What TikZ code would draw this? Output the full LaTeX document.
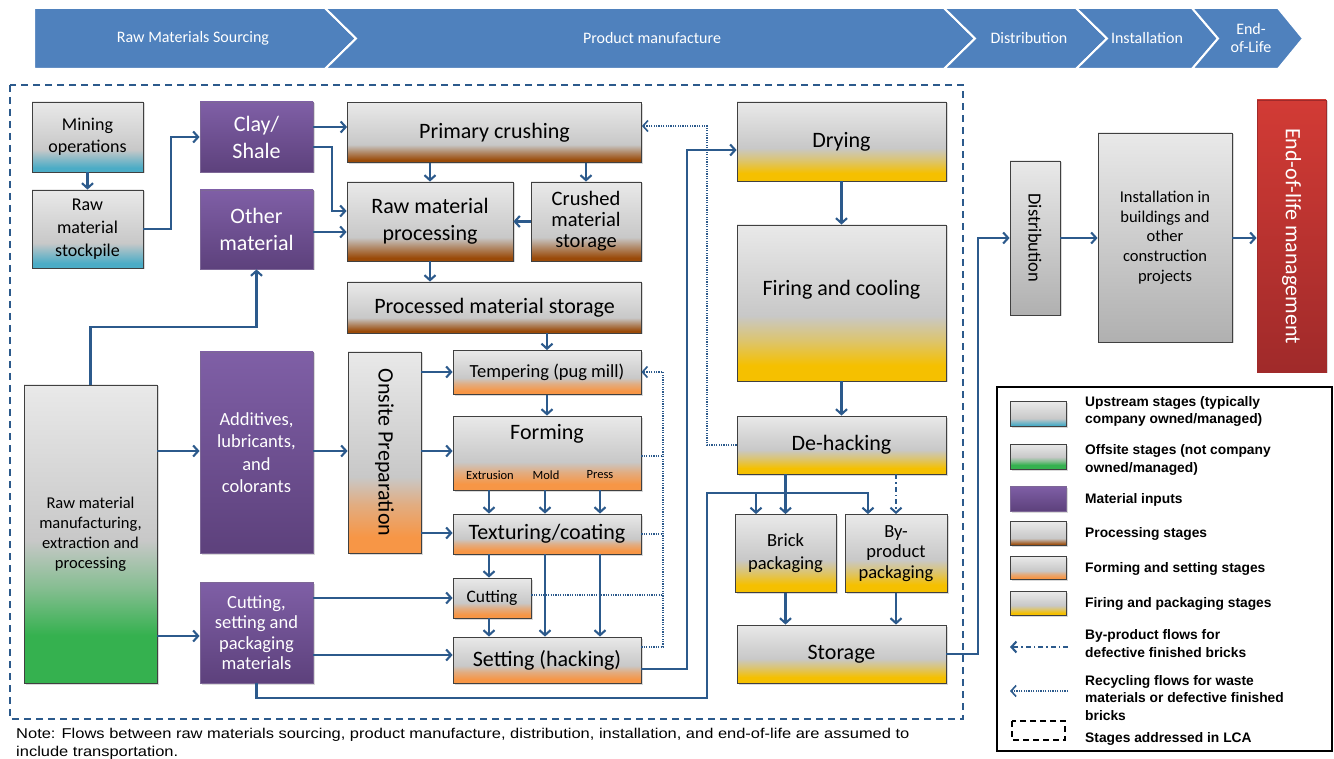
\documentclass[tikz,border=0pt]{standalone}
\usepackage{fontspec}
\setmainfont{Carlito}
\newfontfamily\arialfont[FakeStretch=1.16]{Liberation Sans}
\newfontfamily\legfont{Liberation Sans}
\usetikzlibrary{arrows.meta,shadows}

\definecolor{chevblue}{HTML}{4F81BD}
\definecolor{linecol}{HTML}{2C5A8C}
\definecolor{topG}{HTML}{E9E9E9}
\definecolor{midG}{HTML}{C8C8C8}
\definecolor{grayB}{HTML}{B0B0B0}
\definecolor{procB}{HTML}{9A4A08}
\definecolor{upC}{HTML}{4BACC6}
\definecolor{formO}{HTML}{F79646}
\definecolor{fireY}{HTML}{F5C000}
\definecolor{offG}{HTML}{35B14F}
\definecolor{purT}{HTML}{7F5FA6}
\definecolor{purB}{HTML}{5D417C}
\definecolor{eolT}{HTML}{D23B35}
\definecolor{eolB}{HTML}{A02A2A}
\colorlet{procM}{procB!55!midG}
\colorlet{upM}{upC!55!midG}
\colorlet{formM}{formO!55!midG}
\colorlet{fireM}{fireY!45!midG}
\colorlet{offM}{offG!45!midG}

\pgfdeclareverticalshading{upshade}{100bp}{color(0bp)=(upC); color(25bp)=(upC); color(28bp)=(upC); color(34bp)=(upM); color(41bp)=(midG); color(75bp)=(topG); color(100bp)=(topG)}
\pgfdeclareverticalshading{procshade}{100bp}{color(0bp)=(procB); color(25bp)=(procB); color(27bp)=(procB); color(33bp)=(procM); color(40bp)=(midG); color(75bp)=(topG); color(100bp)=(topG)}
\pgfdeclareverticalshading{formshade}{100bp}{color(0bp)=(formO); color(25bp)=(formO); color(29bp)=(formO); color(37bp)=(formM); color(44bp)=(midG); color(75bp)=(topG); color(100bp)=(topG)}
\pgfdeclareverticalshading{fireshade}{100bp}{color(0bp)=(fireY); color(25bp)=(fireY); color(30bp)=(fireY); color(38bp)=(fireM); color(46bp)=(midG); color(75bp)=(topG); color(100bp)=(topG)}
\pgfdeclareverticalshading{offshade}{100bp}{color(0bp)=(offG); color(25bp)=(offG); color(33bp)=(offG); color(41bp)=(offM); color(49bp)=(midG); color(75bp)=(topG); color(100bp)=(topG)}
\pgfdeclareverticalshading{purshade}{100bp}{color(0bp)=(purB); color(25bp)=(purB); color(75bp)=(purT); color(100bp)=(purT)}
\pgfdeclareverticalshading{grayshade}{100bp}{color(0bp)=(grayB); color(25bp)=(grayB); color(75bp)=(topG); color(100bp)=(topG)}
\pgfdeclareverticalshading{eolshade}{100bp}{color(0bp)=(eolB); color(25bp)=(eolB); color(75bp)=(eolT); color(100bp)=(eolT)}

\begin{document}
\begin{tikzpicture}
        [x=1pt,y=-1pt,
        every node/.style={align=center,inner sep=1pt},
        box/.style 2 args={minimum width=#1pt,minimum height=#2pt},
        stage/.style={draw=black!75,line width=0.8pt,drop shadow={opacity=0.3,shadow xshift=1.5pt,shadow yshift=-1.5pt}},
        upstr/.style={stage,shading=upshade},
        proc/.style={stage,shading=procshade},
        formst/.style={stage,shading=formshade},
        firest/.style={stage,shading=fireshade},
        offs/.style={stage,shading=offshade},
        purp/.style={stage,draw=purB!80,shading=purshade,text=white},
        grayst/.style={stage,shading=grayshade},
        eolst/.style={stage,draw=eolB,shading=eolshade,text=white},
        big/.style={font=\fontsize{22}{27}\selectfont},
        mid/.style={font=\fontsize{18.5}{22}\selectfont},
        sml/.style={font=\fontsize{16.5}{19.8}\selectfont},
        tiny/.style={font=\fontsize{12.5}{14}\selectfont},
        chevron/.style={fill=chevblue,draw=white,line width=2pt},
        chevtxt/.style={text=white,font=\fontsize{16}{18}\selectfont},
        legtxt/.style={align=left,font=\legfont\bfseries\fontsize{13.8}{17.5}\selectfont},
        flow/.style={draw=linecol,line width=2.1pt,-{Straight Barb[length=5pt,width=11pt]}},
        byflow/.style={flow,dash pattern=on 5pt off 3pt on 1.5pt off 3pt},
        recline/.style={draw=linecol,line width=1.6pt,dash pattern=on 1.2pt off 1.2pt},
        recyc/.style={recline,-{Straight Barb[length=5pt,width=11pt]}}]
        \useasboundingbox (0,0) rectangle (1334,759);

        % phase bar
        \filldraw[chevron] (34,8) -- (325,8) -- (356,38.5) -- (325,69) -- (34,69) -- cycle;
        \filldraw[chevron] (325,8) -- (944,8) -- (975,38.5) -- (944,69) -- (325,69) -- (356,38.5) -- cycle;
        \filldraw[chevron] (944,8) -- (1076,8) -- (1107,38.5) -- (1076,69) -- (944,69) -- (975,38.5) -- cycle;
        \filldraw[chevron] (1076,8) -- (1192,8) -- (1218,38.5) -- (1192,69) -- (1076,69) -- (1107,38.5) -- cycle;
        \filldraw[chevron] (1192,8) -- (1278,8) -- (1303,38.5) -- (1278,69) -- (1192,69) -- (1218,38.5) -- cycle;
        \node[chevtxt] (RMS) at (193,38)     {Raw Materials Sourcing};
        \node[chevtxt] (PMF) at (652,38)     {Product manufacture};
        \node[chevtxt] (DIS) at (1029,38)    {Distribution};
        \node[chevtxt] (INS) at (1147,38)    {Installation};
        \node[chevtxt] (EOF) at (1251,38.5)  {End-\\of-Life};

        % LCA boundary
        \draw[linecol,line width=1.4pt,dash pattern=on 7pt off 5pt] (10,85) rectangle (963,719);

        % raw materials
        \node[upstr,box={111}{70},font=\fontsize{18}{22}\selectfont]  (MINE)  at (87.5,137)    {Mining\\operations};
        \node[upstr,box={111}{78},font=\fontsize{18}{23}\selectfont]  (STOCK) at (87.5,229)    {Raw\\material\\stockpile};
        \node[purp,box={113}{70},big]    (CLAY)  at (256.5,137)   {Clay/\\Shale};
        \node[purp,box={113}{79},big]    (OTHER) at (256.5,229.5) {Other\\material};
        \node[offs,box={133}{298},sml]   (RMM)   at (90.5,534)    {Raw material\\manufacturing,\\extraction and\\processing};
        \node[purp,box={113}{201},font=\fontsize{18.5}{22.5}\selectfont] (ADD) at (256.5,452.5) {Additives,\\lubricants,\\and\\colorants};
        \node[purp,box={113}{101},font=\fontsize{18.5}{20.5}\selectfont] (CSP) at (256.5,632.5) {Cutting,\\setting and\\packaging\\materials};

        % processing
        \node[proc,box={294}{60},big]    (PC)    at (494.5,132.5) {Primary crushing};
        \node[proc,box={166}{79},big]    (RMP)   at (430,221.5)   {Raw material\\processing};
        \node[proc,box={110}{79},font=\fontsize{20.5}{21}\selectfont] (CMS) at (586,221.5) {Crushed\\material\\storage};
        \node[proc,box={294}{51},big]    (PMS)   at (494.5,307.5) {Processed material storage};

        % forming and setting
        \node[formst,box={73}{201},big]  (ONS)   at (384.5,452.5) {\rotatebox{-90}{Onsite Preparation}};
        \node[formst,box={188}{44},mid]  (TEMP)  at (547,372.5)   {Tempering (pug mill)};
        \node[formst,box={188}{74}]      (FORM)  at (547,453)     {};
        \node[big]  (FORMT) at (547,434) {Forming};
        \node[tiny] (EXT)   at (490,475) {Extrusion};
        \node[tiny] (MOLD)  at (546,475) {Mold};
        \node[tiny] (PRESS) at (600,475) {Press};
        \node[formst,box={188}{40},big]  (TEX)   at (547,534)     {Texturing/coating};
        \node[formst,box={78}{40},font=\fontsize{17.5}{20}\selectfont] (CUT) at (492,598) {Cutting};
        \node[formst,box={188}{46},big]  (SET)   at (547,660)     {Setting (hacking)};

        % firing and packaging
        \node[firest,box={209}{79},big]  (DRY)   at (841.5,141.5) {Drying};
        \node[firest,box={209}{156}]     (FIRE)  at (841.5,303)   {};
        \node[big] (FIRET) at (841.5,290) {Firing and cooling};
        \node[firest,box={209}{58},big]  (DEH)   at (841.5,445)   {De-hacking};
        \node[firest,box={101}{78},font=\fontsize{18.5}{23}\selectfont] (BRICK) at (785.5,553.5) {Brick\\packaging};
        \node[firest,box={102}{78},font=\fontsize{18.5}{20.5}\selectfont] (BYP) at (896,553.5) {By-\\product\\packaging};
        \node[firest,box={209}{58},big]  (STOR)  at (841.5,654)   {Storage};

        % downstream
        \node[grayst,box={50}{154},font=\fontsize{18.5}{20}\selectfont] (DIST) at (1035,238) {\rotatebox{-90}{Distribution}};
        \node[grayst,box={134}{209},sml] (INST)  at (1165,237.5)  {Installation in\\buildings and\\other\\construction\\projects};
        \node[eolst,box={69}{272},big]   (EOL)   at (1291.5,236)  {\rotatebox{-90}{End-of-life management}};

        % flows
        \draw[flow] (MINE) -- (STOCK);
        \draw[flow] (STOCK.east) -- ++(28,0) |- (CLAY.west);
        \draw[flow] (CLAY.east |- 0,127) -- (PC.west |- 0,127);
        \draw[flow] (CLAY.east |- 0,147) -- (332,147) |- (RMP.west |- 0,211);
        \draw[flow] (OTHER.east |- 0,232) -- (RMP.west |- 0,232);
        \draw[flow] (PC.south -| RMP.north) -- (RMP.north);
        \draw[flow] (PC.south -| CMS.north) -- (CMS.north);
        \draw[flow] (CMS) -- (RMP);
        \draw[flow] (RMP.south) -- (RMP.south |- PMS.north);
        \draw[flow] (PMS.south -| TEMP.north) -- (TEMP.north);
        \draw[flow] (RMM.north) -- ++(0,-58) -| (OTHER.south);
        \draw[flow] (RMM.east |- 0,451) -- (ADD.west |- 0,451);
        \draw[flow] (ADD.east |- 0,451) -- (ONS.west |- 0,451);
        \draw[flow] (ONS.east |- 0,372) -- (TEMP.west |- 0,372);
        \draw[flow] (ONS.east |- 0,451) -- (FORM.west |- 0,451);
        \draw[flow] (ONS.east |- 0,533) -- (TEX.west |- 0,533);
        \draw[flow] (TEMP) -- (FORM);
        \foreach \x in {489,545,600}
            \draw[flow] (FORM.south -| \x,0) -- (TEX.north -| \x,0);
        \draw[flow] (TEX.south -| 489,0) -- (CUT.north -| 489,0);
        \foreach \x in {545,600}
            \draw[flow] (TEX.south -| \x,0) -- (SET.north -| \x,0);
        \draw[flow] (CUT.south -| 489,0) -- (SET.north -| 489,0);
        \draw[flow] (RMM.east |- 0,636) -- (CSP.west |- 0,636);
        \draw[flow] (CSP.east |- 0,598) -- (CUT.west |- 0,598);
        \draw[flow] (CSP.east |- 0,655) -- (SET.west |- 0,655);
        \draw[flow] (SET.east |- 0,669) -- (687,669) |- (DRY.west |- 0,150);
        \draw[flow] (DRY) -- (FIRE);
        \draw[flow] (FIRE) -- (DEH);
        \draw[flow] (DEH.south -| BRICK.north) -- (BRICK.north);
        \draw[byflow] (DEH.south -| BYP.north) -- (BYP.north);
        \draw[flow] (CSP.south) -- ++(0,15) -| (707,493) -| (BYP.north -| 868,0);
        \coordinate (J) at (756,493);
        \draw[flow] (J) -- (BRICK.north -| J);
        \draw[flow] (BRICK) -- (BRICK |- STOR.north);
        \draw[flow] (BYP) -- (BYP |- STOR.north);
        \draw[flow] (STOR.east) -- (978,654) |- (DIST.west);
        \draw[flow] (DIST.east) -- (INST.west |- DIST.east);
        \draw[flow] (INST.east |- DIST.east) -- (EOL.west |- DIST.east);

        % recycling
        \draw[recyc] (DEH.west) -- (707,445) |- (PC.east |- 0,126);
        \draw[recyc] (SET.east |- 0,647) -| (663,372) -- (TEMP.east |- 0,372);
        \draw[recline] (FORM.east |- 0,456) -- (663,456);
        \draw[recline] (TEX.east) -- (663,534);
        \draw[recline] (CUT.east |- 0,595) -- (663,595);

        % legend
        \draw[black,line width=1.5pt] (997,387) rectangle (1332,751);
        \node[upstr,box={56}{25}]  (SW1) at (1038,414)   {};
        \node[offs,box={56}{25}]   (SW2) at (1038,456.5) {};
        \node[purp,box={56}{25}]   (SW3) at (1038,498.5) {};
        \node[proc,box={56}{24}]   (SW4) at (1038,533.5) {};
        \node[formst,box={56}{23}] (SW5) at (1038,568)   {};
        \node[firest,box={56}{24}] (SW6) at (1038,603.5) {};
        \node[legtxt,anchor=west] (LT1) at (1084,411.5) {Upstream stages (typically\\company owned/managed)};
        \node[legtxt,anchor=west] (LT2) at (1084,460) {Offsite stages (not company\\owned/managed)};
        \node[legtxt,anchor=west] (LT3) at (1084,500) {Material inputs};
        \node[legtxt,anchor=west] (LT4) at (1084,534) {Processing stages};
        \node[legtxt,anchor=west] (LT5) at (1084,569) {Forming and setting stages};
        \node[legtxt,anchor=west] (LT6) at (1084,604) {Firing and packaging stages};
        \coordinate (B1) at (1068,647);
        \coordinate (B2) at (1010,647);
        \draw[byflow] (B1) -- (B2);
        \node[legtxt,anchor=west] (LT7) at (1084,643.5) {By-product flows for\\defective finished bricks};
        \coordinate (R1) at (1068,691);
        \coordinate (R2) at (1010,691);
        \draw[recyc] (R1) -- (R2);
        \node[legtxt,anchor=west] (LT8) at (1084,698) {Recycling flows for waste\\materials or defective finished\\bricks};
        \draw[black,line width=1.5pt,dash pattern=on 6pt off 4pt] (1012,721) rectangle (1065,740);
        \node[legtxt,anchor=west] (LT9) at (1084,739) {Stages addressed in LCA};

        % note
        \node[anchor=north west,align=left,font=\arialfont\fontsize{14.2}{18}\selectfont] (NOTE) at (15,727)
            {Note: Flows between raw materials sourcing, product manufacture, distribution, installation, and end-of-life are assumed to\\include transportation.};
\end{tikzpicture}
\end{document}
